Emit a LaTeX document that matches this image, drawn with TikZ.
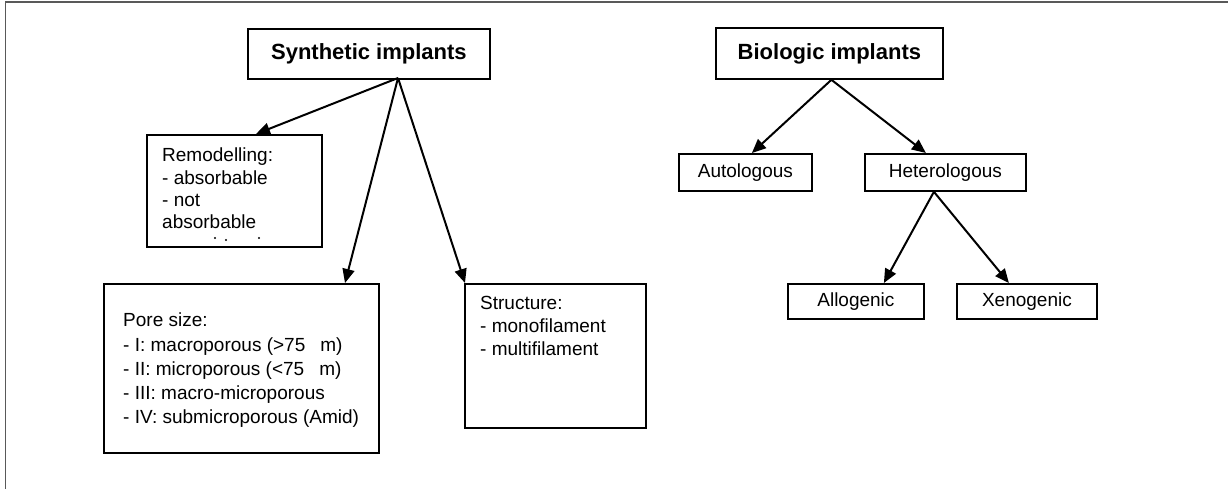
\documentclass[tikz,border=0pt]{standalone}
\usepackage{fontspec}
\setmainfont{Liberation Sans}
\usetikzlibrary{arrows.meta}
\begin{document}
\begin{tikzpicture}[x=1pt,y=-1pt,
  box/.style={draw=black,line width=1.8pt,rectangle,inner sep=0pt,anchor=north west},
  ttl/.style={font=\bfseries\fontsize{22}{26}\selectfont},
  lbl/.style={font=\fontsize{19}{22}\selectfont},
  txt/.style={align=left,anchor=north west,inner sep=0pt},
  arr/.style={line width=2pt,-{Triangle[length=14pt,width=12pt]}},
  frame/.style={draw=black!65,line width=1.5pt}]
\useasboundingbox (0,0) rectangle (1228,489);
\draw[frame] (5.5,489) -- (5.5,2) -- (1228,2);

% title boxes
\node[box,ttl,minimum width=242pt,minimum height=50pt] (syn) at (247,28) {Synthetic implants};
\node[box,ttl,minimum width=227pt,minimum height=51pt] (bio) at (715,27) {Biologic implants};

% synthetic branch boxes
\node[box,minimum width=175pt,minimum height=112pt] (rem) at (146,134) {};
\node[box,minimum width=275pt,minimum height=169pt] (pore) at (103,283) {};
\node[box,minimum width=181pt,minimum height=144pt] (str) at (464,283) {};

\node[txt,font=\fontsize{19}{22.3}\selectfont] (remt) at (162,148) {Remodelling:\\- absorbable\\- not\\absorbable};
\node[txt,font=\fontsize{19}{24.2}\selectfont] (poret) at (123,313) {Pore size:\\- I: macroporous (>75\hspace{15pt}m)\\- II: microporous (<75\hspace{15pt}m)\\- III: macro-microporous\\- IV: submicroporous (Amid)};
\node[txt,font=\fontsize{19}{23}\selectfont] (strt) at (480,296) {Structure:\\- monofilament\\- multifilament};

\fill (215,238) circle (1.1);
\fill (226,240) circle (1.1);
\fill (259,238) circle (1.1);

% biologic branch boxes
\node[box,lbl,minimum width=133pt,minimum height=37pt] (autol) at (678,153) {Autologous};
\node[box,lbl,minimum width=161pt,minimum height=37pt] (het) at (864,153) {Heterologous};
\node[box,lbl,minimum width=136pt,minimum height=35pt] (allo) at (787,283) {Allogenic};
\node[box,lbl,minimum width=140pt,minimum height=35pt] (xeno) at (956,283) {Xenogenic};

% connectors
\coordinate (sapex) at (398,78);
\draw[arr] (sapex) -- ([xshift=110pt]rem.north west);
\draw[arr] (sapex) -- ([xshift=242pt]pore.north west);
\draw[arr] (sapex) -- ([xshift=1pt]str.north west);
\draw[arr] ([xshift=2pt]bio.south) -- ([xshift=6.5pt]autol.north);
\draw[arr] ([xshift=2pt]bio.south) -- ([xshift=-19.5pt]het.north);
\draw[arr] ([xshift=-11.5pt]het.south) -- ([xshift=28pt]allo.north);
\draw[arr] ([xshift=-11.5pt]het.south) -- ([xshift=-18pt]xeno.north);
\end{tikzpicture}
\end{document}
